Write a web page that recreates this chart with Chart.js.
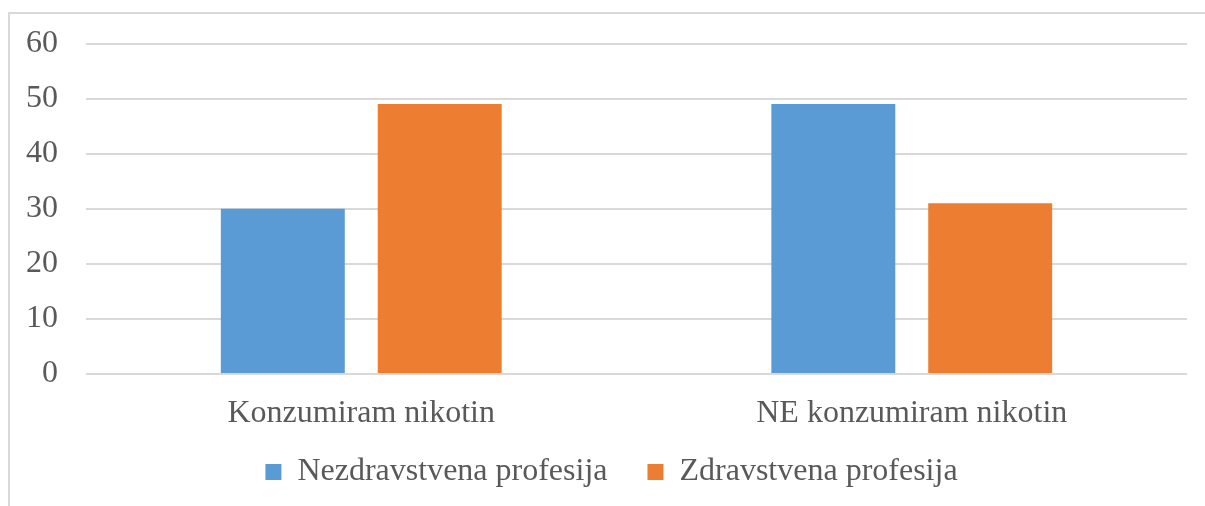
<!DOCTYPE html>
<html>
<head>
<meta charset="utf-8">
<script src="https://cdn.jsdelivr.net/npm/chart.js@4.4.0/dist/chart.umd.min.js"></script>
<style>
  html, body { margin: 0; padding: 0; background: #ffffff; }
  #wrap { position: relative; width: 1205px; height: 506px; }
  canvas { display: block; }
</style>
</head>
<body>
<div id="wrap"><canvas id="c" width="1205" height="506"></canvas></div>
<script>
const categories = ["Konzumiram nikotin", "NE konzumiram nikotin"];
const seriesNames = ["Nezdravstvena profesija", "Zdravstvena profesija"];
const nezdravstvena = [30, 49];
const zdravstvena = [49, 31];
const yTicks = [0, 10, 20, 30, 40, 50, 60];

const textColor = "#595959";
const fontFamily = "'Liberation Serif', 'Times New Roman', serif";
const fontSize = 32;

const framePlugin = {
  id: "frame",
  beforeLayout(chart) {
    const lg = chart.legend;
    if (lg && !lg._fitPatched) {
      const orig = lg.fit.bind(lg);
      lg.fit = function () { orig(); this.height = 62; };
      lg._fitPatched = true;
    }
  },
  afterLayout(chart) {
    const lg = chart.legend;
    if (lg) { lg.left += 18; lg.right += 18; lg.top -= 20; }
  },
  beforeDraw(chart) {
    const ctx = chart.ctx;
    ctx.save();
    ctx.strokeStyle = "#d9d9d9";
    ctx.lineWidth = 2;
    ctx.beginPath();
    ctx.moveTo(9, 506);
    ctx.lineTo(9, 13);
    ctx.lineTo(1205, 13);
    ctx.stroke();
    ctx.restore();
  }
};

new Chart(document.getElementById("c"), {
  type: "bar",
  data: {
    labels: categories,
    datasets: [
      { label: seriesNames[0], data: nezdravstvena, backgroundColor: "#5b9bd5", borderWidth: 0 },
      { label: seriesNames[1], data: zdravstvena, backgroundColor: "#ed7d31", borderWidth: 0 }
    ]
  },
  options: {
    responsive: false,
    animation: false,
    events: [],
    categoryPercentage: 0.57,
    barPercentage: 0.79,
    layout: { padding: { left: 0, right: 18, top: 43.5, bottom: 8 } },
    plugins: {
      tooltip: { enabled: false },
      legend: {
        position: "bottom",
        labels: {
          color: textColor,
          font: { family: fontFamily, size: fontSize },
          boxWidth: 16,
          boxHeight: 16,
          padding: 40
        }
      }
    },
    scales: {
      x: {
        grid: { display: false },
        border: { display: false },
        ticks: {
          color: textColor,
          font: { family: fontFamily, size: fontSize },
          padding: 12
        },
        afterFit(scale) { scale.height = 62; }
      },
      y: {
        min: 0,
        max: 60,
        afterBuildTicks(scale) { scale.ticks = yTicks.map(v => ({ value: v })); },
        grid: { color: "#d9d9d9", lineWidth: 2, drawTicks: false },
        border: { display: false },
        ticks: {
          color: textColor,
          font: { family: fontFamily, size: fontSize },
          padding: 28
        },
        afterFit(scale) { scale.width = 86; scale.paddingTop = 0; scale.paddingBottom = 0; }
      }
    }
  },
  plugins: [framePlugin]
});
</script>
</body>
</html>
